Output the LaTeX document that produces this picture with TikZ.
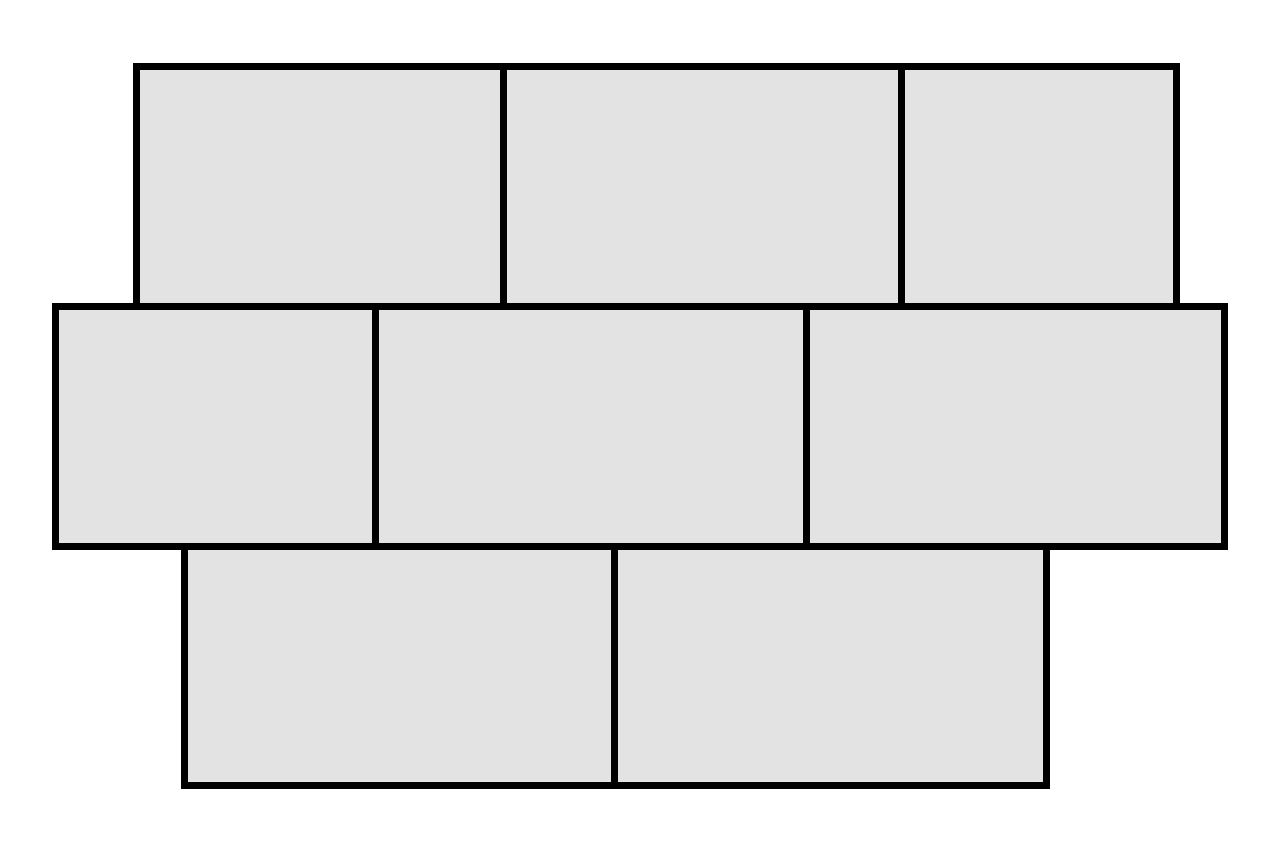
\documentclass[tikz,border=0pt]{standalone}
\begin{document}
\begin{tikzpicture}[x=1pt,y=-1pt,
  cell/.style={fill=cellgray,draw=black,line width=7pt,line join=miter}]
\definecolor{cellgray}{HTML}{E3E3E3}
\useasboundingbox[fill=white] (0,0) rectangle (1280,853);
% row 1
\draw[cell] (136,67) rectangle (503,306);
\draw[cell] (503,67) rectangle (901,306);
\draw[cell] (901,67) rectangle (1176,306);
% row 3
\draw[cell] (184,546) rectangle (614,785);
\draw[cell] (614,546) rectangle (1046,785);
% row 2
\draw[cell] (55,306) rectangle (375,546);
\draw[cell] (375,306) rectangle (806,546);
\draw[cell] (806,306) rectangle (1224,546);
\end{tikzpicture}
\end{document}
